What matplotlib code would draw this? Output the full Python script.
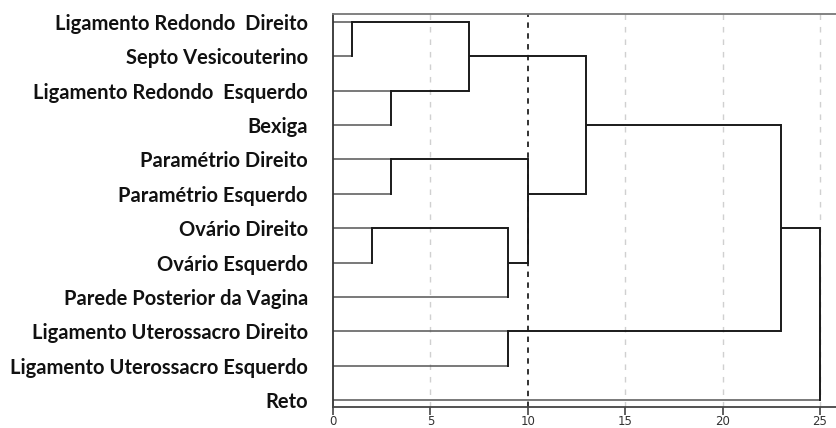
import math
import matplotlib
matplotlib.use("Agg")
import matplotlib.pyplot as plt

labels = ["Ligamento Redondo  Direito", "Septo Vesicouterino", "Ligamento Redondo  Esquerdo",
          "Bexiga", "Paramétrio Direito", "Paramétrio Esquerdo", "Ovário Direito",
          "Ovário Esquerdo", "Parede Posterior da Vagina", "Ligamento Uterossacro Direito",
          "Ligamento Uterossacro Esquerdo", "Reto"]

# agglomeration schedule: new clusters get ids 12, 13, ... in order
merge_a = [0, 6, 2, 4, 12, 13, 9, 15, 16, 20, 21]
merge_b = [1, 7, 3, 5, 14, 8, 10, 17, 19, 18, 11]
merge_dist = [1, 2, 3, 3, 7, 9, 9, 10, 13, 23, 25]

cut_level = 10
xticks = [0, 5, 10, 15, 20, 25]

n = len(labels)
row = {i: i for i in range(n)}
height = {i: 0 for i in range(n)}

fig = plt.figure(figsize=(8.37, 4.28), dpi=100)
ax = fig.add_axes([333 / 837, 21 / 428, 504 / 837, 393 / 428])

def seg_style(child):
    if child < n:
        return dict(color="#555555", lw=1.1)
    return dict(color="#1a1a1a", lw=1.4)

for k, (a, b, d) in enumerate(zip(merge_a, merge_b, merge_dist)):
    ra, rb = row[a], row[b]
    ax.plot([height[a], d], [ra, ra], solid_capstyle="butt", **seg_style(a))
    ax.plot([height[b], d], [rb, rb], solid_capstyle="butt", **seg_style(b))
    ax.plot([d, d], [ra, rb], color="#1a1a1a", lw=1.4)
    new = n + k
    row[new] = math.floor((ra + rb) / 2)
    height[new] = d

for x in xticks[1:]:
    if x != cut_level:
        ax.axvline(x, color="#d0d0d0", lw=1.0, ls=(0, (4, 5)), zorder=0)
ax.axvline(cut_level, color="#222222", lw=1.3, ls=(0, (3, 3)), zorder=1)

ax.set_xlim(0, 504 / 19.48)
ax.set_ylim(11.2, -0.23)
ax.set_yticks(range(n))
ax.set_yticklabels(labels, fontfamily="Lato", fontweight="bold", fontsize=14.5, color="#111111")
ax.tick_params(axis="y", length=0, pad=18)
ax.set_xticks(xticks)
ax.tick_params(axis="x", length=5.5, width=1.2, color="#444444", labelsize=8.5,
               labelcolor="#333333", pad=0.5)
ax.spines["right"].set_visible(False)
ax.spines["top"].set_color("#777777")
ax.spines["left"].set_color("#333333")
ax.spines["bottom"].set_color("#444444")
for s in ["top", "left", "bottom"]:
    ax.spines[s].set_linewidth(1.3)

fig.savefig("out.png", dpi=100)
